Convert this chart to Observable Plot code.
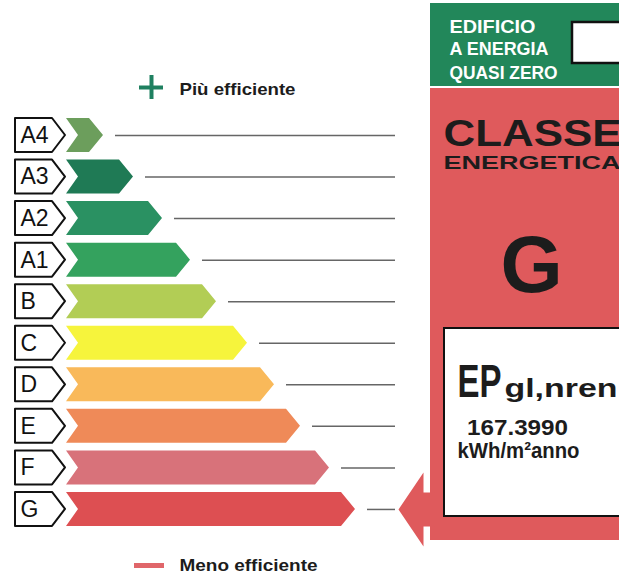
<!DOCTYPE html>
<html><head><meta charset="utf-8">
<script src="https://cdn.jsdelivr.net/npm/d3@7"></script>
<script src="https://cdn.jsdelivr.net/npm/@observablehq/plot@0.6"></script>
<style>body{margin:0;background:#fff} svg{display:block}</style>
</head><body><div id="chart"></div>
<script>
// ---- data ----
const classes = ["A4","A3","A2","A1","B","C","D","E","F","G"];
const classColors = ["#6c9e5c","#1f7a55","#2a9162","#34a25e","#b2cd55","#f6f43c","#f9b95a","#ef8a58","#d8727a","#dd4f52"];
const barLengths = [37, 67, 96, 124, 150, 181, 208, 234, 263, 289];
const currentClass = "G";
const epValue = "167.3990";
const epUnit = "kWh/m²anno";
const nzebLines = ["EDIFICIO", "A ENERGIA", "QUASI ZERO"];
const legendTop = "Più efficiente";
const legendBottom = "Meno efficiente";

// ---- layout ----
const W = 619, H = 573;
const BAR_X0 = 66, ROW0 = 135, ROW = 41.55;
const HALF = 17 / ROW, TIP = 14, NOTCH = 12, LINE_GAP = 12, LINE_END = 395;
const X = px => px - BAR_X0;
const Y = py => (py - ROW0) / ROW;
const RED = "#df5a5c", GREEN = "#22875a", INK = "#1c1c1c";
const FONT = "'Liberation Sans', Arial, Helvetica, sans-serif";

const barPoly = classes.flatMap((c, i) => [
  {c, col: classColors[i], y: i - HALF, x1: 0, x2: barLengths[i] - TIP},
  {c, col: classColors[i], y: i, x1: NOTCH, x2: barLengths[i]},
  {c, col: classColors[i], y: i + HALF, x1: 0, x2: barLengths[i] - TIP}
]);
const labelPoly = classes.flatMap((c, i) => [
  {c, y: i - HALF, x1: X(15), x2: X(52)},
  {c, y: i, x1: X(15), x2: X(65)},
  {c, y: i + HALF, x1: X(15), x2: X(52)}
]);
const ci = classes.indexOf(currentClass);
const arrowPts = [[398,0],[423,-37],[423,-17],[434,-17],[434,17],[423,17],[423,37],[398,0]]
  .map(([px, dy]) => ({x: X(px), y: ci + dy / ROW}));

const one = [0];
const rect = (x1, x2, y1, y2, o) => Plot.rect(one, {x1: () => X(x1), x2: () => X(x2), y1: () => Y(y1), y2: () => Y(y2), ...o});
const txt = (t, px, py, o) => Plot.text(one, {x: () => X(px), y: () => Y(py), text: () => t, lineAnchor: "bottom", fontWeight: "bold", fill: INK, ...o});

const chart = Plot.plot({
  width: W, height: H, margin: 0,
  x: {domain: [X(0), X(W)], range: [0, W], axis: null},
  y: {domain: [Y(0), Y(H)], range: [0, H], axis: null},
  style: {fontFamily: FONT, background: "white"},
  marks: [
    Plot.ruleY(classes.map((c, i) => ({i, x1: barLengths[i] + LINE_GAP})),
      {y: "i", x1: "x1", x2: () => X(LINE_END), stroke: "#666", strokeWidth: 1.5}),
    Plot.areaX(barPoly, {y: "y", x1: "x1", x2: "x2", z: "c", fill: "col"}),
    Plot.areaX(labelPoly, {y: "y", x1: "x1", x2: "x2", z: "c", fill: "white", stroke: "#111", strokeWidth: 2}),
    Plot.text(classes, {x: () => X(20), y: (d, i) => i, text: d => d, textAnchor: "start", fontSize: 23, fill: "#111"}),
    // NZEB box
    rect(430, 625, 3, 86, {fill: GREEN}),
    rect(572, 625, 22, 63, {fill: "white", stroke: "#111", strokeWidth: 2.5}),
    txt(nzebLines[0], 449, 32, {fill: "white", fontSize: 18.5, textAnchor: "start"}),
    txt(nzebLines[1], 449, 54, {fill: "white", fontSize: 18.5, textAnchor: "start"}),
    txt(nzebLines[2], 449, 78, {fill: "white", fontSize: 18.5, textAnchor: "start"}),
    // class panel
    rect(430, 625, 88, 540, {fill: RED}),
    Plot.line(arrowPts, {x: "x", y: "y", fill: RED, stroke: "none"}),
    rect(444, 625, 328, 516, {fill: "white", stroke: "#111", strokeWidth: 2}),
    txt("CLASSE", 443, 145, {fontSize: 36, textAnchor: "start"}),
    txt("ENERGETICA", 443, 168, {fontSize: 18.5, textAnchor: "start"}),
    txt(currentClass, 531, 291, {fontSize: 80, textAnchor: "middle"}),
    txt("EP", 457, 396, {fontSize: 46, textAnchor: "start"}),
    txt(epValue, 517, 434, {fontSize: 22, textAnchor: "middle"}),
    txt(epUnit, 518, 457, {fontSize: 22, textAnchor: "middle"}),
    // legend
    Plot.ruleY(one, {y: () => Y(87), x1: () => X(139), x2: () => X(163), stroke: "#1f8060", strokeWidth: 4}),
    Plot.ruleX(one, {x: () => X(151), y1: () => Y(75), y2: () => Y(99), stroke: "#1f8060", strokeWidth: 4}),
    txt(legendTop, 179, 94, {fontSize: 17, textAnchor: "start"}),
    Plot.ruleY(one, {y: () => Y(565), x1: () => X(134), x2: () => X(164), stroke: "#e0666a", strokeWidth: 5}),
    txt(legendBottom, 179, 570, {fontSize: 17, textAnchor: "start"})
  ]
});

const lengths = {"EDIFICIO": 86, "A ENERGIA": 99, "QUASI ZERO": 108, "CLASSE": 178, "ENERGETICA": 177,
  [epValue]: 101, [epUnit]: 122, [legendTop]: 116, [legendBottom]: 138};
const NS = "http://www.w3.org/2000/svg";
chart.querySelectorAll("text").forEach(t => {
  const content = t.textContent;
  const L = lengths[content];
  if (L) { t.setAttribute("textLength", L); t.setAttribute("lengthAdjust", "spacingAndGlyphs"); }
  if (content === "EP") {
    // EP with subscript "gl,nren" as one text element
    t.textContent = "";
    const a = document.createElementNS(NS, "tspan");
    a.textContent = "EP";
    a.setAttribute("textLength", 44); a.setAttribute("lengthAdjust", "spacingAndGlyphs");
    const b = document.createElementNS(NS, "tspan");
    b.textContent = "gl,nren";
    b.setAttribute("font-size", 25); b.setAttribute("dx", 3);
    b.setAttribute("textLength", 113); b.setAttribute("lengthAdjust", "spacingAndGlyphs");
    t.appendChild(a); t.appendChild(b);
  }
});
document.getElementById("chart").appendChild(chart);
</script></body></html>
